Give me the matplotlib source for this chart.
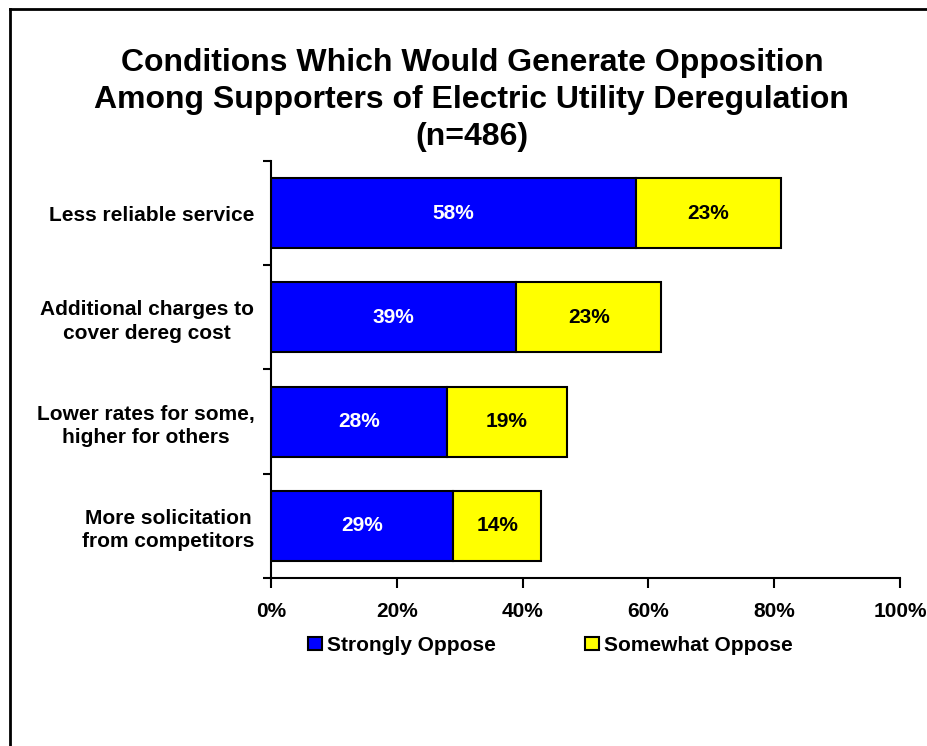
import matplotlib.pyplot as plt
from matplotlib.lines import Line2D
import numpy as np

plt.rcParams["font.family"] = ["Liberation Sans", "DejaVu Sans"]
plt.rcParams["font.weight"] = "bold"

categories = [
    "Less reliable service",
    "Additional charges to\ncover dereg cost",
    "Lower rates for some,\nhigher for others",
    "More solicitation\nfrom competitors",
]
strongly = [58, 39, 28, 29]
somewhat = [23, 23, 19, 14]
series_names = ["Strongly Oppose", "Somewhat Oppose"]
xticks = [0, 20, 40, 60, 80, 100]


def main() -> None:
    fig = plt.figure(figsize=(9.27, 7.46), dpi=100)
    ax = fig.add_axes([0.2923, 0.2252, 0.6786, 0.559])

    y = np.arange(len(categories))
    h = 0.67
    b1 = ax.barh(y, strongly, height=h, color="#0000FF", edgecolor="black", linewidth=1.5)
    b2 = ax.barh(y, somewhat, left=strongly, height=h, color="#FFFF00",
                 edgecolor="black", linewidth=1.5)

    for i in range(len(categories)):
        ax.text(strongly[i] / 2, y[i], f"{strongly[i]}%", ha="center", va="center",
                color="white", fontsize=15, fontweight="bold")
        ax.text(strongly[i] + somewhat[i] / 2, y[i], f"{somewhat[i]}%", ha="center",
                va="center", color="black", fontsize=15, fontweight="bold")

    ax.set_xlim(0, 100)
    ax.set_ylim(len(categories) - 0.5, -0.5)

    ax.set_xticks(xticks)
    ax.set_xticklabels([f"{t}%" for t in xticks], fontsize=15, fontweight="bold")
    ax.tick_params(axis="x", direction="out", length=7, width=1.5, pad=10)

    # boundary ticks between categories, labels sit on invisible minor ticks
    ax.set_yticks(np.arange(len(categories) + 1) - 0.5)
    ax.set_yticklabels([])
    ax.tick_params(axis="y", which="major", direction="out", length=6, width=1.5)
    ax.set_yticks(y, minor=True)
    ax.set_yticklabels(categories, minor=True, fontsize=15, fontweight="bold")
    ax.tick_params(axis="y", which="minor", length=0, pad=12)
    for lbl in ax.get_yticklabels(minor=True):
        lbl.set_multialignment("center")
        lbl.set_linespacing(1.3)

    for side in ["top", "right"]:
        ax.spines[side].set_visible(False)
    for side in ["left", "bottom"]:
        ax.spines[side].set_linewidth(1.5)

    fig.text(0.509, 0.866, "Conditions Which Would Generate Opposition\n"
             "Among Supporters of Electric Utility Deregulation\n(n=486)",
             ha="center", va="center", fontsize=23, fontweight="bold", linespacing=1.29)

    fig.legend([b1, b2], series_names, loc="center", bbox_to_anchor=(0.594, 0.135),
               ncol=2, frameon=False, handlelength=0.65, handleheight=0.65,
               handletextpad=0.25, columnspacing=4.3, prop={"weight": "bold", "size": 15})

    # outer frame: left and top edges only
    fig.add_artist(Line2D([0.0108, 0.0108], [0, 0.988], color="black", linewidth=2,
                          transform=fig.transFigure))
    fig.add_artist(Line2D([0.0108, 1.0], [0.988, 0.988], color="black", linewidth=2,
                          transform=fig.transFigure))

    fig.savefig("out.png", dpi=100)
    plt.close(fig)


if __name__ == "__main__":
    main()
